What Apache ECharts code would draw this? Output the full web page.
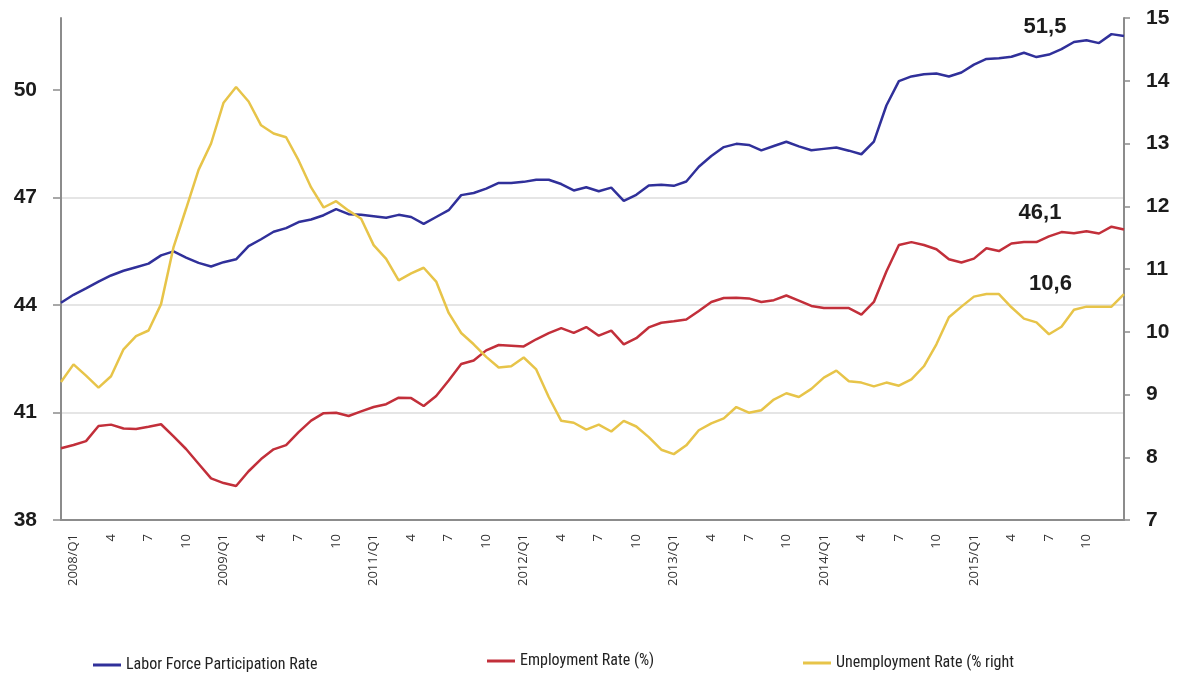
<!DOCTYPE html>
<html><head><meta charset="utf-8">
<script src="https://cdn.jsdelivr.net/npm/echarts@6/dist/echarts.min.js"></script>
<style>html,body{margin:0;padding:0;background:#fff}#c{width:1186px;height:674px}</style>
</head><body><div id="c"></div>
<script>
const tickLabels = ["2008/Q1","4","7","10","2009/Q1","4","7","10","2011/Q1","4","7","10","2012/Q1","4","7","10","2013/Q1","4","7","10","2014/Q1","4","7","10","2015/Q1","4","7","10"];

const laborForce = [44.06,44.28,44.46,44.65,44.82,44.95,45.05,45.15,45.38,45.49,
45.32,45.17,45.07,45.19,45.27,45.64,45.83,46.04,46.14,46.31,
46.38,46.50,46.67,46.53,46.51,46.47,46.43,46.51,46.45,46.26,
46.45,46.64,47.06,47.12,47.24,47.40,47.40,47.43,47.49,47.49,
47.37,47.19,47.28,47.17,47.27,46.90,47.07,47.33,47.35,47.32,
47.44,47.85,48.15,48.40,48.49,48.46,48.31,48.43,48.55,48.42,
48.31,48.35,48.39,48.30,48.20,48.55,49.56,50.24,50.37,50.43,
50.45,50.37,50.48,50.70,50.86,50.88,50.92,51.03,50.91,50.98,
51.13,51.33,51.38,51.30,51.55,51.50];

const employment = [40.00,40.09,40.20,40.62,40.66,40.55,40.54,40.60,40.67,40.33,
39.98,39.57,39.16,39.03,38.95,39.36,39.70,39.97,40.09,40.45,
40.77,40.98,40.99,40.90,41.03,41.15,41.23,41.41,41.40,41.18,
41.46,41.89,42.35,42.45,42.73,42.88,42.86,42.84,43.04,43.21,
43.35,43.22,43.38,43.14,43.28,42.90,43.07,43.37,43.50,43.54,
43.59,43.83,44.08,44.19,44.20,44.18,44.08,44.13,44.26,44.12,
43.97,43.91,43.91,43.91,43.73,44.08,44.93,45.67,45.75,45.67,
45.55,45.27,45.18,45.29,45.58,45.50,45.71,45.75,45.75,45.91,
46.03,46.00,46.05,45.99,46.18,46.10];

const unemployment = [9.20,9.48,9.30,9.11,9.29,9.72,9.93,10.02,10.44,11.35,
11.96,12.58,13.00,13.65,13.90,13.67,13.29,13.16,13.10,12.73,
12.30,11.98,12.08,11.93,11.80,11.38,11.16,10.82,10.93,11.02,
10.80,10.30,9.98,9.80,9.60,9.43,9.45,9.59,9.40,8.96,
8.58,8.55,8.44,8.52,8.41,8.58,8.49,8.32,8.12,8.05,
8.19,8.43,8.54,8.62,8.80,8.71,8.75,8.92,9.02,8.96,
9.09,9.27,9.38,9.21,9.19,9.13,9.19,9.14,9.24,9.45,
9.80,10.23,10.40,10.56,10.60,10.60,10.39,10.21,10.15,9.96,
10.08,10.35,10.40,10.40,10.40,10.60];

const seriesNames = ["Labor Force Participation Rate","Employment Rate (%)","Unemployment Rate (% right"];
const endLabels = ["51,5","46,1","10,6"];
const leftTicks = [38,41,44,47,50];

const N = laborForce.length;
const categories = Array.from({length: N}, (_, i) => {
  const k = (i - 1) / 3;
  return (Number.isInteger(k) && k >= 0 && k < tickLabels.length) ? tickLabels[k] : '';
});

const colors = ['#30309a', '#c22f3a', '#e7c449'];
const numFont = {fontFamily: '"Liberation Sans", Arial, sans-serif', fontWeight: 'bold', fontSize: 21, color: '#1c1c1c'};

function endMark(idx, value, text, offset) {
  return {
    silent: true,
    symbol: 'circle', symbolSize: 0,
    data: [{coord: [idx, value]}],
    label: Object.assign({show: true, position: 'inside', offset: offset, formatter: text}, numFont, {fontSize: 22})
  };
}

const chart = echarts.init(document.getElementById('c'), null, {renderer: 'canvas'});
const legendBase = {
  icon: 'rect', itemWidth: 28, itemHeight: 3,
  textStyle: {fontFamily: '"Liberation Sans Narrow", "Roboto Condensed", Roboto, sans-serif', fontSize: 16, color: '#222', padding: [0, 0, 8, 0]}
};
chart.setOption({
  animation: false,
  backgroundColor: '#fff',
  grid: {left: 61, right: 62, top: 18, bottom: 154},
  legend: [
    Object.assign({}, legendBase, {data: [seriesNames[0]], left: 88, top: 652}),
    Object.assign({}, legendBase, {data: [seriesNames[1]], left: 482, top: 648}),
    Object.assign({}, legendBase, {data: [seriesNames[2]], left: 798, top: 650})
  ],
  xAxis: {
    type: 'category', data: categories, boundaryGap: false,
    axisLine: {lineStyle: {color: '#8c8c8c', width: 2}},
    axisTick: {show: false},
    splitLine: {show: false},
    axisLabel: {
      interval: 0, rotate: 90, margin: 14,
      fontFamily: '"Open Sans", sans-serif', fontSize: 13, color: '#333'
    }
  },
  yAxis: [
    {
      type: 'value', min: 38, max: 52, interval: 3, position: 'left',
      axisLine: {show: true, lineStyle: {color: '#8c8c8c', width: 2}},
      axisTick: {show: true, length: 8, customValues: leftTicks, lineStyle: {color: '#8c8c8c', width: 1.5}},
      axisLabel: Object.assign({margin: 24, customValues: leftTicks}, numFont),
      splitLine: {show: true, showMinLine: false, showMaxLine: false, lineStyle: {color: '#dcdcdc', width: 1.5}}
    },
    {
      type: 'value', min: 7, max: 15, interval: 1, position: 'right',
      axisLine: {show: true, lineStyle: {color: '#8c8c8c', width: 2}},
      axisTick: {show: true, length: 6, lineStyle: {color: '#8c8c8c', width: 1.5}},
      axisLabel: Object.assign({margin: 22}, numFont),
      splitLine: {show: false}
    }
  ],
  series: [
    {name: seriesNames[0], type: 'line', data: laborForce, yAxisIndex: 0, symbol: 'none',
     lineStyle: {color: colors[0], width: 2.5}, itemStyle: {color: colors[0]},
     markPoint: endMark(79, laborForce[79], endLabels[0], [-4, -28])},
    {name: seriesNames[1], type: 'line', data: employment, yAxisIndex: 0, symbol: 'none',
     lineStyle: {color: colors[1], width: 2.5}, itemStyle: {color: colors[1]},
     markPoint: endMark(79, employment[79], endLabels[1], [-9, -23])},
    {name: seriesNames[2], type: 'line', data: unemployment, yAxisIndex: 1, symbol: 'none',
     lineStyle: {color: colors[2], width: 2.5}, itemStyle: {color: colors[2]},
     markPoint: endMark(80, unemployment[80], endLabels[2], [-11, -43])}
  ]
});
</script></body></html>
